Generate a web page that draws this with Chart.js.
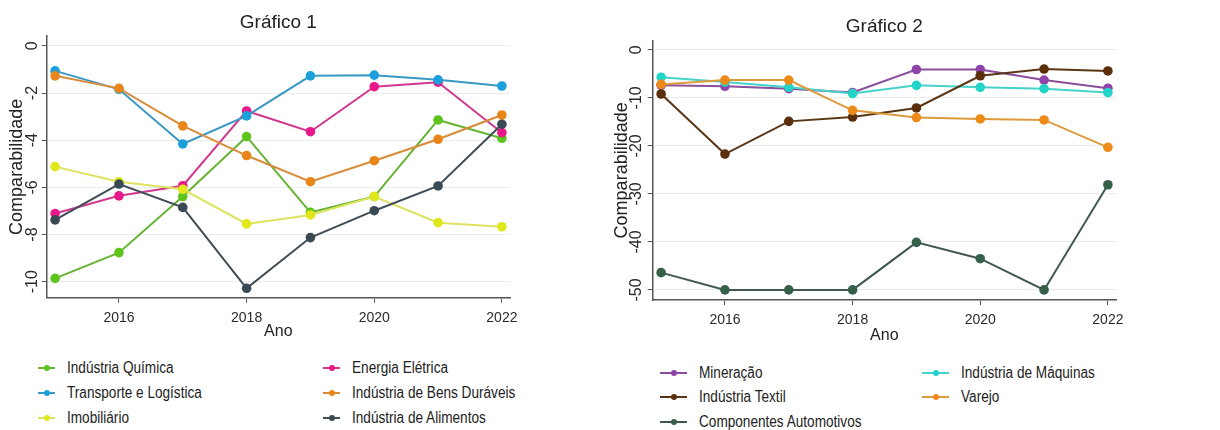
<!DOCTYPE html>
<html>
<head>
<meta charset="utf-8">
<script src="https://cdn.jsdelivr.net/npm/chart.js@4.4.0/dist/chart.umd.min.js"></script>
<style>
  body { margin: 0; background: #fff; width: 1220px; height: 430px; overflow: hidden; position: relative;
         font-family: 'Liberation Sans', Arial, sans-serif; }
  .box { position: absolute; top: 0; width: 610px; }
  .item { position: absolute; height: 20px; font-size: 16px; color: #222; white-space: nowrap; line-height: 20px; }
  .item .ln { position: absolute; top: 9px; height: 2px; }
  .item .dot { position: absolute; top: 7px; width: 6px; height: 6px; border-radius: 50%; }
  .item span { position: absolute; top: 0; transform: scaleX(0.85); transform-origin: left center; }
</style>
</head>
<body>
<div class="box" style="left:0;height:345px"><canvas id="chart1"></canvas></div>
<div class="box" style="left:610px;height:350px"><canvas id="chart2"></canvas></div>
<div id="legend"></div>
<script>
// x axis: years, ticks every two years
var years = [2015, 2016, 2017, 2018, 2019, 2020, 2021, 2022];
var xTicks = [2016, 2018, 2020, 2022];

// Gráfico 1
var yTicks1 = [0, -2, -4, -6, -8, -10];
var quimica     = [-9.86, -8.77, -6.39, -3.85, -7.06, -6.39, -3.14, -3.92];
var energia     = [-7.11, -6.36, -5.93, -2.76, -3.64, -1.73, -1.54, -3.68];
var transporte  = [-1.06, -1.84, -4.16, -2.97, -1.27, -1.24, -1.44, -1.70];
var duraveis    = [-1.27, -1.80, -3.39, -4.65, -5.76, -4.87, -3.96, -2.93];
var imobiliario = [-5.12, -5.76, -6.08, -7.55, -7.17, -6.39, -7.50, -7.67];
var alimentos   = [-7.38, -5.86, -6.85, -10.28, -8.13, -6.99, -5.94, -3.32];

// Gráfico 2
var yTicks2 = [0, -10, -20, -30, -40, -50];
var mineracao   = [-7.4, -7.6, -8.1, -8.9, -4.1, -4.1, -6.3, -8.0];
var maquinas    = [-5.7, -6.7, -7.8, -9.1, -7.4, -7.8, -8.1, -8.9];
var textil      = [-9.2, -21.7, -14.9, -14.0, -12.1, -5.4, -4.0, -4.4];
var varejo      = [-7.2, -6.3, -6.3, -12.6, -14.1, -14.4, -14.6, -20.3];
var componentes = [-46.4, -50, -50, -50, -40.1, -43.5, -50, -28.1];

var FONT = "'Liberation Sans', Arial, sans-serif";

function serie(label, vals, line, point) {
  return {
    label: label,
    data: years.map(function (y, i) { return { x: y, y: vals[i] }; }),
    borderColor: line,
    backgroundColor: point,
    pointBackgroundColor: point,
    pointBorderColor: point,
    pointBorderWidth: 0,
    pointRadius: 4.8,
    borderWidth: 2,
    tension: 0
  };
}

// rotated y tick labels (Chart.js does not rotate vertical-axis ticks)
var yLabels = {
  id: 'yLabels',
  afterDraw: function (chart, args, opts) {
    var s = chart.scales.y, c = chart.ctx;
    c.save();
    c.font = '16px ' + FONT;
    c.fillStyle = '#2b2b2b';
    c.textAlign = 'center';
    c.textBaseline = 'middle';
    s.ticks.forEach(function (t) {
      c.save();
      c.translate(chart.chartArea.left - opts.offset, s.getPixelForValue(t.value));
      c.rotate(-Math.PI / 2);
      c.fillText(String(t.value), 0, 0);
      c.restore();
    });
    c.restore();
  }
};

function makeChart(id, title, datasets, g) {
  var n = datasets.length;
  datasets.forEach(function (d, i) { d.order = n - i; });
  return new Chart(document.getElementById(id), {
    type: 'line',
    data: { datasets: datasets },
    plugins: [yLabels],
    options: {
      responsive: true,
      maintainAspectRatio: false,
      animation: false,
      layout: { padding: { left: 0, right: g.right, top: 0, bottom: 0 } },
      plugins: {
        legend: { display: false },
        tooltip: { enabled: false },
        yLabels: { offset: g.tickOff },
        title: {
          display: true, text: title, fullSize: false, color: '#222',
          font: { family: FONT, size: 19, weight: 'normal' },
          padding: { top: g.titleTop, bottom: g.titleBottom }
        }
      },
      scales: {
        x: {
          type: 'linear', min: 2014.868, max: 2022.127,
          afterBuildTicks: function (s) { s.ticks = xTicks.map(function (v) { return { value: v }; }); },
          afterFit: function (s) { s.height = g.xHeight; s.paddingLeft = 0; s.paddingRight = 0; },
          grid: { drawOnChartArea: false, drawTicks: true, tickLength: 5, tickColor: '#555' },
          border: { color: '#555', width: 1.5 },
          ticks: { color: '#2b2b2b', padding: g.xPad, maxRotation: 0, font: { family: FONT, size: 14 },
                   callback: function (v) { return String(v); } },
          title: { display: true, text: 'Ano', color: '#222', font: { family: FONT, size: 16 },
                   padding: { top: 0, bottom: g.anoPad } }
        },
        y: {
          type: 'linear', min: g.ymin, max: g.ymax,
          afterBuildTicks: function (s) { s.ticks = g.yTicks.map(function (v) { return { value: v }; }); },
          afterFit: function (s) { s.width = g.yWidth; s.paddingTop = 0; s.paddingBottom = 0; },
          grid: { color: '#ececec', lineWidth: 1, drawTicks: true, tickLength: 5, tickColor: '#555' },
          border: { color: '#555', width: 1.5 },
          ticks: { display: false },
          title: { display: true, text: 'Comparabilidade', color: '#222', font: { family: FONT, size: 18 },
                   padding: { top: g.yTitlePad, bottom: 0 } }
        }
      }
    }
  });
}

var c1 = makeChart('chart1', 'Gráfico 1', [
  serie('Indústria Química', quimica, '#66b432', '#5cc41c'),
  serie('Energia Elétrica', energia, '#d2388e', '#e8178a'),
  serie('Transporte e Logística', transporte, '#3a98c4', '#1ca0dc'),
  serie('Indústria de Bens Duráveis', duraveis, '#d98c38', '#e8861a'),
  serie('Imobiliário', imobiliario, '#dde35e', '#e0e81c'),
  serie('Indústria de Alimentos', alimentos, '#404d57', '#3a4a55')
], { right: 100, tickOff: 14, titleTop: 11.6, titleBottom: 1.6, xHeight: 47.3, xPad: 6.9, anoPad: 3.4,
     ymin: -10.68, ymax: 0.42, yTicks: yTicks1, yWidth: 46.7, yTitlePad: 6.2 });

var c2 = makeChart('chart2', 'Gráfico 2', [
  serie('Mineração', mineracao, '#8a4e9c', '#8e44a8'),
  serie('Indústria de Máquinas', maquinas, '#45d2c8', '#22d3c8'),
  serie('Indústria Textil', textil, '#5a3516', '#5b2e0c'),
  serie('Varejo', varejo, '#dc9a3c', '#ee8a18'),
  serie('Componentes Automotivos', componentes, '#3f5a4c', '#36604a')
], { right: 104, tickOff: 16, titleTop: 15.6, titleBottom: 2.3, xHeight: 50, xPad: 6.6, anoPad: 4.9,
     ymin: -52.1, ymax: 1.9, yTicks: yTicks2, yWidth: 42.7, yTitlePad: 1.2 });

// two-column legends under each chart, filled row by row
function legend(chart, x0, x1, rowsY, lineW) {
  var box = document.getElementById('legend');
  chart.data.datasets.forEach(function (d, i) {
    var col = i % 2, row = Math.floor(i / 2);
    var el = document.createElement('div');
    el.className = 'item';
    el.style.left = (col ? x1 : x0) + 'px';
    el.style.top = (rowsY[row] - 10) + 'px';
    el.innerHTML = '<div class="ln" style="left:0;width:' + lineW + 'px;background:' + d.borderColor + '"></div>' +
      '<div class="dot" style="left:' + (lineW / 2 - 3) + 'px;background:' + d.pointBackgroundColor + '"></div>' +
      '<span style="left:' + (lineW + 12) + 'px">' + d.label + '</span>';
    box.appendChild(el);
  });
}
legend(c1, 38, 323, [368, 393, 418], 17);
legend(c2, 660, 922, [373, 397, 422], 27);
</script>
</body>
</html>
